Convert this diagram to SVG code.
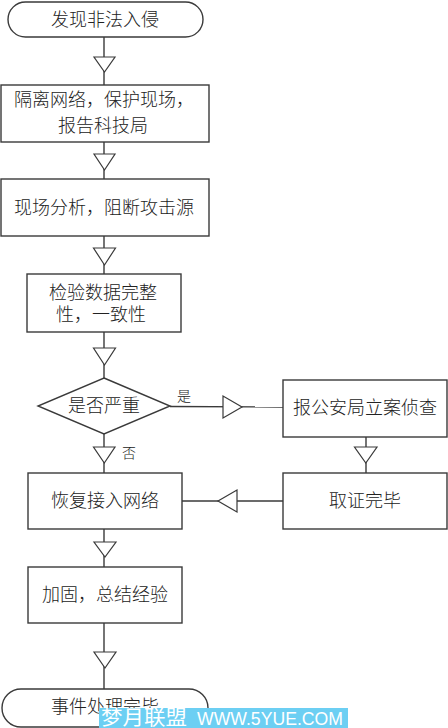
<svg xmlns="http://www.w3.org/2000/svg" width="448" height="728" viewBox="0 0 448 728">
<style>
.shape{fill:#fff;stroke:#3a3a3a;stroke-width:1.4}
.line{fill:none;stroke:#3a3a3a;stroke-width:1.4}
.arr{fill:#fff;stroke:#3a3a3a;stroke-width:1.2}
.t{font-family:"Liberation Serif","Noto Sans CJK SC",serif;font-size:18px;font-weight:300;fill:#222;text-anchor:middle;dominant-baseline:central}
.s{font-family:"Liberation Serif","Noto Sans CJK SC",serif;font-size:14px;font-weight:300;fill:#222;text-anchor:middle;dominant-baseline:central}
</style>
<rect width="448" height="728" fill="#fff"/>
<g id="connectors">
<line class="line" x1="104" y1="37" x2="104" y2="85"/>
<polygon class="arr" points="94,57 115,57 104.5,72"/>
<line class="line" x1="104" y1="142" x2="104" y2="179"/>
<polygon class="arr" points="94,154 115,154 104.5,170"/>
<line class="line" x1="104" y1="236" x2="104" y2="274"/>
<polygon class="arr" points="93.5,248 115.5,248 104.5,265"/>
<line class="line" x1="104" y1="332" x2="104" y2="378"/>
<polygon class="arr" points="93.5,348 115.5,348 104.5,365"/>
<line class="line" x1="170" y1="406.5" x2="283" y2="407"/>
<polygon class="arr" points="223,396 223,418 242,407"/>
<text class="s" x="184" y="396">是</text>
<line class="line" x1="366" y1="437" x2="366" y2="473"/>
<polygon class="arr" points="354.5,447 377,447 365.8,463"/>
<line class="line" x1="283" y1="501" x2="182" y2="501"/>
<polygon class="arr" points="237,490 237,512 218,501"/>
<line class="line" x1="104" y1="434" x2="104" y2="473"/>
<polygon class="arr" points="93.5,447 115,447 104.3,463"/>
<text class="s" x="129" y="453">否</text>
<line class="line" x1="104" y1="529" x2="104" y2="567"/>
<polygon class="arr" points="94,542 116,542 105,557"/>
<line class="line" x1="104" y1="623" x2="104" y2="689"/>
<polygon class="arr" points="94,652 116,652 105,668"/>
</g>
<g id="start">
<rect class="shape" x="8" y="2" width="195" height="35" rx="17.5"/>
<text class="t" x="105" y="20">发现非法入侵</text>
</g>
<g id="isolate">
<rect class="shape" x="1" y="85" width="208" height="57"/>
<text class="t" x="104" y="100">隔离网络，保护现场，</text>
<text class="t" x="103" y="126">报告科技局</text>
</g>
<g id="analyze">
<rect class="shape" x="1" y="179" width="208" height="57"/>
<text class="t" x="104" y="208">现场分析，阻断攻击源</text>
</g>
<g id="check">
<rect class="shape" x="27" y="274" width="154" height="58"/>
<text class="t" x="103" y="293">检验数据完整</text>
<text class="t" x="101" y="315">性，一致性</text>
</g>
<g id="serious">
<polygon class="shape" points="104,378 170,406 104,434 38,406"/>
<text class="t" x="104" y="406">是否严重</text>
</g>
<g id="report">
<rect class="shape" x="283" y="380" width="164" height="57"/>
<text class="t" x="365" y="408">报公安局立案侦查</text>
</g>
<g id="evidence">
<rect class="shape" x="283" y="473" width="164" height="56"/>
<text class="t" x="365" y="501">取证完毕</text>
</g>
<g id="restore">
<rect class="shape" x="28" y="473" width="154" height="56"/>
<text class="t" x="105" y="501">恢复接入网络</text>
</g>
<g id="harden">
<rect class="shape" x="28" y="567" width="154" height="56"/>
<text class="t" x="105" y="595">加固，总结经验</text>
</g>
<g id="end">
<rect class="shape" x="2" y="689" width="206" height="38" rx="19"/>
<text class="t" x="105" y="707">事件处理完毕</text>
</g>
<g id="watermark">
<rect x="99" y="708" width="249" height="20" fill="#6ccff3"/>
<text x="101" y="725" font-family="'Noto Sans CJK SC',sans-serif" font-size="20" fill="#fff" textLength="86" lengthAdjust="spacingAndGlyphs">梦月联盟</text>
<text x="197" y="725" font-family="'Liberation Sans',sans-serif" font-size="18" fill="#fff" textLength="146" lengthAdjust="spacingAndGlyphs">WWW.5YUE.COM</text>
</g>
</svg>
